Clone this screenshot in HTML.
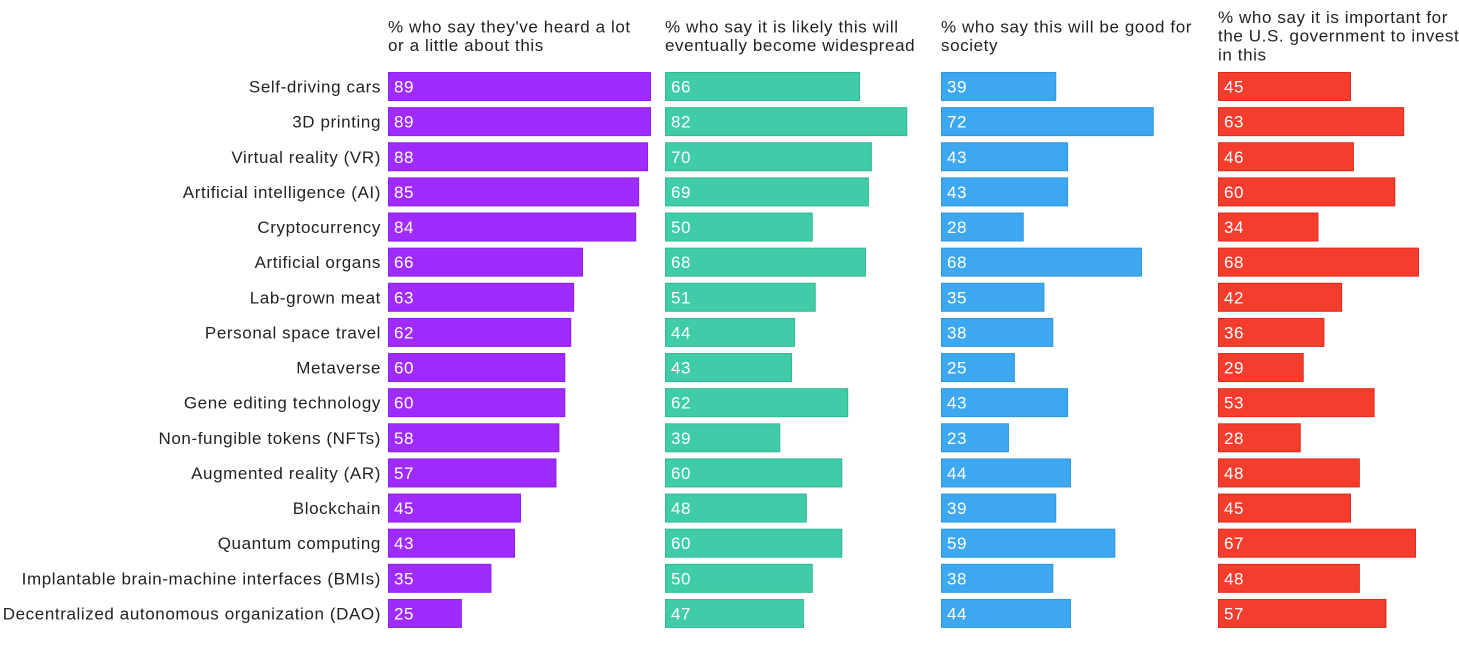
<!DOCTYPE html>
<html><head><meta charset="utf-8"><style>
body{margin:0;width:1459px;height:646px;background:#fff;overflow:hidden;font-family:"Liberation Sans",sans-serif;}
svg text{font-family:"Liberation Sans",sans-serif;letter-spacing:0.6px;}
</style></head><body>
<svg id="chart" width="1459" height="646"></svg>
<script>
const categories=["Self-driving cars","3D printing","Virtual reality (VR)","Artificial intelligence (AI)","Cryptocurrency","Artificial organs","Lab-grown meat","Personal space travel","Metaverse","Gene editing technology","Non-fungible tokens (NFTs)","Augmented reality (AR)","Blockchain","Quantum computing","Implantable brain-machine interfaces (BMIs)","Decentralized autonomous organization (DAO)"];
const heard=[89,89,88,85,84,66,63,62,60,60,58,57,45,43,35,25];
const widespread=[66,82,70,69,50,68,51,44,43,62,39,60,48,60,50,47];
const goodSociety=[39,72,43,43,28,68,35,38,25,43,23,44,39,59,38,44];
const govInvest=[45,63,46,60,34,68,42,36,29,53,28,48,45,67,48,57];
const titles=[["% who say they've heard a lot","or a little about this"],["% who say it is likely this will","eventually become widespread"],["% who say this will be good for","society"],["% who say it is important for","the U.S. government to invest","in this"]];
const series=[heard,widespread,goodSociety,govInvest];
const names=["heard","widespread","good-for-society","gov-invest"];
const colors=["#a02bff","#40cca8","#3da8ef","#f53d2e"];
const strokes=["#8a1ff0","#30b894","#2d96dc","#e0281a"];
const panelX=[388,665,941,1218];
const NS="http://www.w3.org/2000/svg";
const svg=document.getElementById('chart');
const xScale=(v)=>v*2.955;
const yScale=(i)=>72+i*35.13;
const barH=29;
function mk(tag,attrs,parent){const e=document.createElementNS(NS,tag);for(const k in attrs)e.setAttribute(k,attrs[k]);(parent||svg).appendChild(e);return e;}
categories.forEach((c,i)=>{
  const t=mk('text',{x:381,y:yScale(i)+barH/2+6,'text-anchor':'end','font-size':'17',fill:'#222'});
  
  
  t.textContent=c;
});
series.forEach((s,p)=>{
  const g=mk('g',{});
  
  
  const n=titles[p].length;
  const top=n===3?23:32.3;
  titles[p].forEach((line,j)=>{
    const t=mk('text',{x:panelX[p],y:top+j*18.7,'font-size':'17',fill:'#222'},g);
    
    
    t.textContent=line;
  });
  s.forEach((v,i)=>{
    const r=mk('rect',{x:panelX[p]+0.5,y:yScale(i)+0.5,width:xScale(v)-1,height:barH-1,fill:colors[p],stroke:strokes[p],'stroke-width':1},g);
    
    
    const t=mk('text',{x:panelX[p]+6,y:yScale(i)+barH/2+6,'font-size':'17',fill:'#fff'},g);
    
    
    t.textContent=v;
  });
});
</script>
</body></html>
